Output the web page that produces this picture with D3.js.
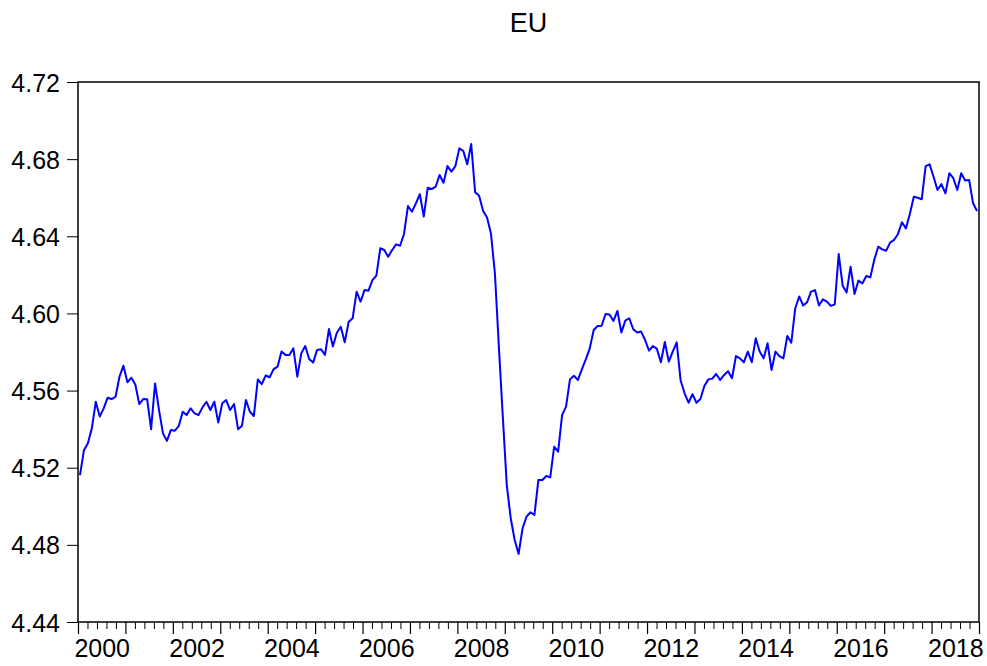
<!DOCTYPE html>
<html>
<head>
<meta charset="utf-8">
<script src="https://cdn.jsdelivr.net/npm/d3@7"></script>
<style>
  html, body { margin: 0; padding: 0; background: #fff; }
  svg { display: block; }
  text { font-family: "Liberation Sans", Arial, sans-serif; fill: #000; }
</style>
</head>
<body>
<svg id="chart" width="987" height="666"></svg>
<script>
// ---- data (monthly, 2000M01 .. 2018M12) ----
const title = "EU";
const startYear = 2000;
const endYear = 2018;
const yTicks = [4.44, 4.48, 4.52, 4.56, 4.60, 4.64, 4.68, 4.72];
const yearLabels = [2000, 2002, 2004, 2006, 2008, 2010, 2012, 2014, 2016, 2018];

const v2000 = [4.5162, 4.5290, 4.5327, 4.5404, 4.5542, 4.5465, 4.5508, 4.5563, 4.5556, 4.5568, 4.5672, 4.5729];
const v2001 = [4.5643, 4.5667, 4.5632, 4.5530, 4.5556, 4.5555, 4.5400, 4.5637, 4.5499, 4.5378, 4.5339, 4.5396];
const v2002 = [4.5392, 4.5416, 4.5490, 4.5473, 4.5508, 4.5482, 4.5473, 4.5513, 4.5542, 4.5499, 4.5542, 4.5434];
const v2003 = [4.5534, 4.5551, 4.5499, 4.5530, 4.5400, 4.5418, 4.5551, 4.5490, 4.5468, 4.5658, 4.5633, 4.5678];
const v2004 = [4.5669, 4.5711, 4.5724, 4.5802, 4.5785, 4.5785, 4.5819, 4.5672, 4.5793, 4.5831, 4.5764, 4.5745];
const v2005 = [4.5810, 4.5814, 4.5785, 4.5919, 4.5828, 4.5900, 4.5931, 4.5850, 4.5957, 4.5975, 4.6113, 4.6061];
const v2006 = [4.6121, 4.6118, 4.6173, 4.6196, 4.6338, 4.6329, 4.6294, 4.6329, 4.6358, 4.6351, 4.6412, 4.6557];
const v2007 = [4.6527, 4.6571, 4.6618, 4.6502, 4.6652, 4.6645, 4.6657, 4.6718, 4.6678, 4.6764, 4.6735, 4.6764];
const v2008 = [4.6856, 4.6842, 4.6773, 4.6879, 4.6628, 4.6610, 4.6533, 4.6498, 4.6415, 4.6208, 4.5828, 4.5465];
const v2009 = [4.5110, 4.4938, 4.4825, 4.4753, 4.4886, 4.4946, 4.4969, 4.4955, 4.5136, 4.5136, 4.5157, 4.5150];
const v2010 = [4.5309, 4.5283, 4.5473, 4.5517, 4.5658, 4.5677, 4.5655, 4.5710, 4.5762, 4.5819, 4.5914, 4.5935];
const v2011 = [4.5936, 4.5997, 4.5995, 4.5961, 4.6013, 4.5901, 4.5963, 4.5975, 4.5918, 4.5901, 4.5906, 4.5862];
const v2012 = [4.5807, 4.5831, 4.5816, 4.5747, 4.5852, 4.5750, 4.5802, 4.5850, 4.5652, 4.5586, 4.5537, 4.5582];
const v2013 = [4.5537, 4.5556, 4.5624, 4.5658, 4.5662, 4.5686, 4.5655, 4.5681, 4.5700, 4.5664, 4.5779, 4.5767];
const v2014 = [4.5747, 4.5802, 4.5747, 4.5871, 4.5802, 4.5767, 4.5845, 4.5707, 4.5802, 4.5779, 4.5767, 4.5883];
const v2015 = [4.5848, 4.6027, 4.6088, 4.6041, 4.6058, 4.6113, 4.6121, 4.6041, 4.6073, 4.6061, 4.6039, 4.6047];
const v2016 = [4.6308, 4.6144, 4.6109, 4.6242, 4.6101, 4.6170, 4.6156, 4.6194, 4.6187, 4.6278, 4.6346, 4.6332];
const v2017 = [4.6325, 4.6367, 4.6381, 4.6412, 4.6473, 4.6441, 4.6516, 4.6605, 4.6600, 4.6592, 4.6764, 4.6773];
const v2018 = [4.6709, 4.6640, 4.6671, 4.6623, 4.6727, 4.6701, 4.6640, 4.6727, 4.6689, 4.6692, 4.6571, 4.6531];

const values = [].concat(v2000, v2001, v2002, v2003, v2004, v2005, v2006, v2007, v2008,
  v2009, v2010, v2011, v2012, v2013, v2014, v2015, v2016, v2017, v2018);

// ---- layout ----
const svg = d3.select("#chart");
const L = 78, R = 979, T = 82, B = 622;
const nMonths = (endYear - startYear + 1) * 12;

const x = d3.scaleLinear().domain([0, nMonths]).range([L, R]);
const y = d3.scaleLinear().domain([4.44, 4.72]).range([B, T]);

// title
svg.append("text")
  .attr("x", (L + R) / 2).attr("y", 32)
  .attr("text-anchor", "middle")
  .style("font-size", "27px")
  .text(title);

// y axis
const yAxis = d3.axisLeft(y).tickValues(yTicks).tickFormat(d3.format(".2f"))
  .tickSize(11).tickPadding(7);
const gy = svg.append("g").attr("transform", `translate(${L},0)`).call(yAxis);
gy.select(".domain").remove();
gy.selectAll("line").attr("stroke", "#000").attr("stroke-width", 1);
gy.selectAll("text").style("font-size", "25px").attr("dy", "0.36em");

// x axis: major ticks each year start
const years = d3.range(startYear, endYear + 2);
const majorVals = years.map(yr => (yr - startYear) * 12);
const gxMaj = svg.append("g").attr("transform", `translate(0,${B})`)
  .call(d3.axisBottom(x).tickValues(majorVals).tickFormat("").tickSize(12));
gxMaj.select(".domain").remove();
gxMaj.selectAll("line").attr("stroke", "#000").attr("stroke-width", 1.2);

// minor ticks (4 per year)
const minorVals = [];
for (let yr = startYear; yr <= endYear; yr++) {
  for (let k = 1; k <= 4; k++) minorVals.push((yr - startYear) * 12 + k * 12 / 5);
}
const gxMin = svg.append("g").attr("transform", `translate(0,${B})`)
  .call(d3.axisBottom(x).tickValues(minorVals).tickFormat("").tickSize(7));
gxMin.select(".domain").remove();
gxMin.selectAll("line").attr("stroke", "#000").attr("stroke-width", 1);

// year labels centered within their year
const gxLab = svg.append("g").attr("transform", `translate(0,${B})`)
  .call(d3.axisBottom(x).tickValues(yearLabels.map(yr => (yr - startYear) * 12 + 6))
    .tickFormat((d) => String(startYear + Math.floor(d / 12))).tickSize(0).tickPadding(17));
gxLab.select(".domain").remove();
gxLab.selectAll("text").style("font-size", "25px");

// line
const line = d3.line().x((d, i) => x(i + 0.5)).y(d => y(d));
svg.append("path").datum(values)
  .attr("d", line)
  .attr("fill", "none")
  .attr("stroke", "#0000ff")
  .attr("stroke-width", 2)
  .attr("stroke-linejoin", "round");

// frame
svg.append("rect")
  .attr("x", L).attr("y", T).attr("width", R - L).attr("height", B - T)
  .attr("fill", "none").attr("stroke", "#000").attr("stroke-width", 1.5);
</script>
</body>
</html>
